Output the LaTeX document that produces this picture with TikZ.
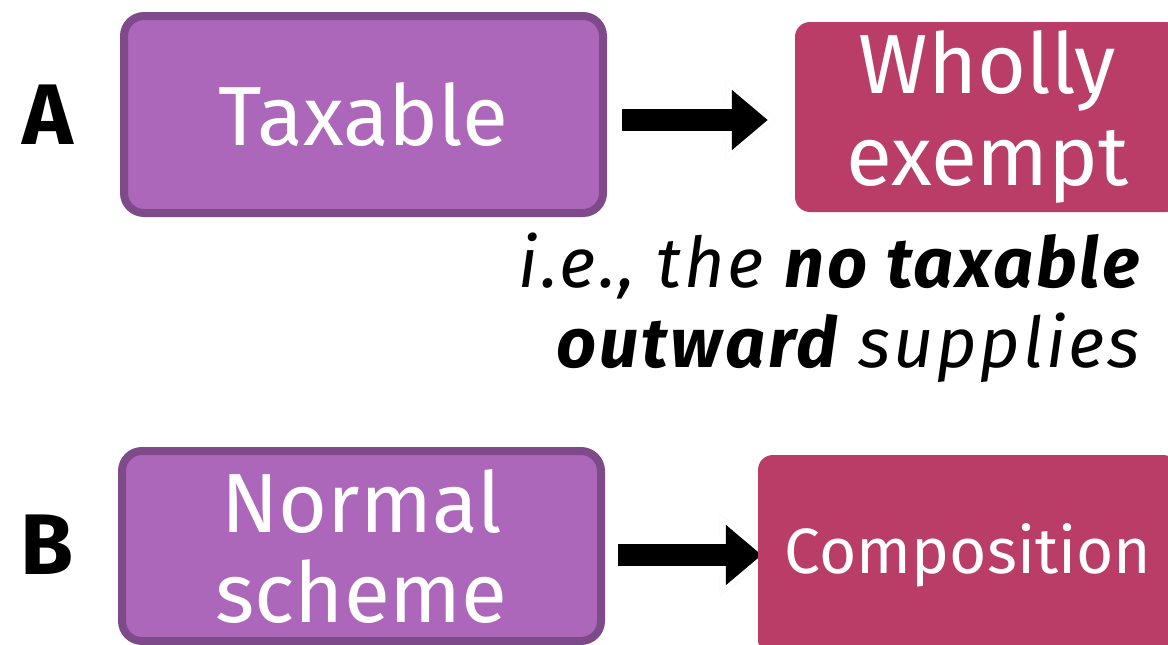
\documentclass[tikz,border=0pt]{standalone}
\usepackage{fontspec}
\setmainfont{Fira Sans}
\newfontfamily\notefont[LetterSpace=4]{Fira Sans}
\usetikzlibrary{arrows.meta,backgrounds,positioning}
\definecolor{tilefill}{HTML}{AC66BA}
\definecolor{tileedge}{HTML}{7E4A8A}
\definecolor{resultfill}{HTML}{B93D67}

\begin{document}
\begin{tikzpicture}[x=1pt,y=-1pt]
  \tikzstyle{source} = [rectangle, draw=tileedge, line width=8pt, fill=tilefill,
  text=white, align=center, rounded corners=20pt, minimum width=479pt, minimum height=197pt,
  font=\fontsize{84}{90}\selectfont]
  \tikzstyle{result} = [rectangle, fill=resultfill, text=white, align=center,
  rounded corners=15pt, font=\fontsize{84}{92}\selectfont]
  \tikzstyle{letter} = [font=\fontsize{86}{90}\selectfont\bfseries]
  \tikzstyle{note} = [align=right, inner sep=0pt, font=\notefont\fontsize{70}{80}\selectfont\itshape]
  \tikzstyle{shaft} = [line width=22pt, -{Triangle[length=36pt,width=58pt]}]
  \tikzstyle{halo} = [line width=34pt, -{Triangle[length=52pt,width=78pt]}]
\useasboundingbox (0,0) rectangle (1168,645);
\node [letter] (la) at (48,115) {A};
\node [source] (taxable) at (363.5,114.5) {Taxable};
\node [result, minimum width=385pt, minimum height=190pt] (exempt) at (987.5,117) {Wholly\\exempt};
\node [note, anchor=north east] (note) at (1140,233) {i.e., the \textbf{no taxable}\\\textbf{outward} supplies};
\node [letter] (lb) at (47,545) {B};
\node [source, minimum height=190pt, font=\fontsize{84}{90}\selectfont] (normal) at (361.5,546) {Normal\\scheme};
\node [result, minimum width=420pt, minimum height=200pt, font=\fontsize{64}{70}\selectfont] (comp) at (968,555) {Composition};
\begin{scope}[on background layer]
\path [halo, draw=gray!45, opacity=.6, shorten <=10pt, shorten >=17pt, xshift=2pt, yshift=-5pt] ([yshift=-5.5pt]taxable.east) -- ([yshift=-5.5pt]taxable.east -| exempt.west);
\path [halo, draw=white, shorten <=9pt, shorten >=17pt] ([yshift=-5.5pt]taxable.east) -- ([yshift=-5.5pt]taxable.east -| exempt.west);
\path [shaft, draw=black, shorten <=15pt, shorten >=27pt] ([yshift=-5.5pt]taxable.east) -- ([yshift=-5.5pt]taxable.east -| exempt.west);
\path [halo, draw=gray!45, opacity=.6, shorten <=8pt, shorten >=-14pt, xshift=2pt, yshift=-5pt] ([yshift=-9pt]normal.east) -- ([yshift=-9pt]normal.east -| comp.west);
\path [halo, draw=white, shorten <=7pt, shorten >=-14pt] ([yshift=-9pt]normal.east) -- ([yshift=-9pt]normal.east -| comp.west);
\path [shaft, draw=black, shorten <=13pt, shorten >=-4pt] ([yshift=-9pt]normal.east) -- ([yshift=-9pt]normal.east -| comp.west);
\end{scope}
\end{tikzpicture}
\end{document}
